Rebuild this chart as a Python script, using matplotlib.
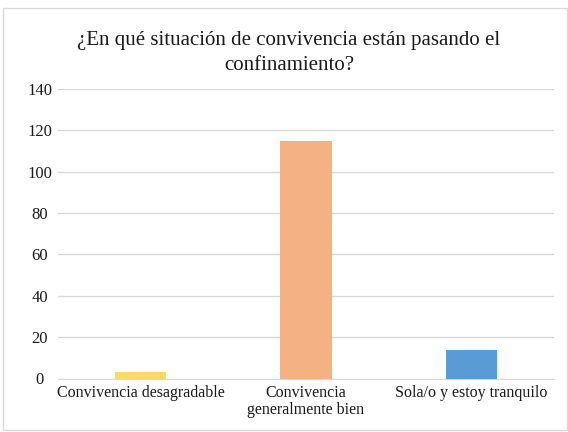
import matplotlib
matplotlib.use('Agg')
import matplotlib.pyplot as plt
from matplotlib.patches import Rectangle

categorias = ['Convivencia desagradable', 'Convivencia\ngeneralmente bien', 'Sola/o y estoy tranquilo']
valores = [3, 115, 14]
colores = ['#FFD966', '#F4B183', '#5B9BD5']
yticks = [0, 20, 40, 60, 80, 100, 120, 140]

plt.rcParams['font.family'] = ['Liberation Serif', 'DejaVu Serif']

fig = plt.figure(figsize=(5.68, 4.32), dpi=100)
ax = fig.add_axes([58/568, 1 - 378.5/432, (554-58)/568, (378.5-89)/432])

x = range(len(categorias))
ax.bar(x, valores, width=0.31, color=colores, zorder=3)

ax.set_xlim(-0.5, 2.5)
ax.set_ylim(0, 140)
ax.set_yticks(yticks)
ax.set_xticks(list(x))
ax.set_xticklabels(categorias, fontsize=11.5, color='#1a1a1a', linespacing=1.05)
ax.tick_params(axis='y', labelsize=12, colors='#1a1a1a', length=0, pad=13)
ax.tick_params(axis='x', length=0, pad=5)
for lbl in ax.get_yticklabels():
    lbl.set_horizontalalignment('center')

ax.grid(axis='y', color='#D9D9D9', linewidth=1, zorder=0)
for s in ['top', 'right', 'left']:
    ax.spines[s].set_visible(False)
ax.spines['bottom'].set_color('#D9D9D9')

fig.text(289/568, 1 - 53/432, u'¿En qué situación de convivencia están pasando el\nconfinamiento?',
         ha='center', va='center', multialignment='center', fontsize=15,
         color='#1a1a1a', linespacing=1.4)

fig.patches.append(Rectangle((3/568, 2/432), 564/568, 1 - 10/432, transform=fig.transFigure,
                             fill=False, edgecolor='#D9D9D9', linewidth=1))

fig.savefig('out.png', dpi=100)
